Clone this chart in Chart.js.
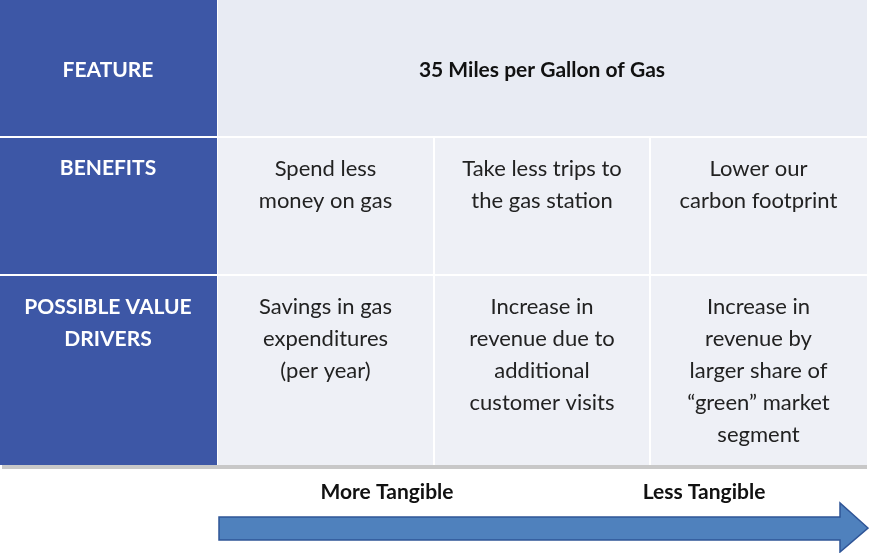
<!DOCTYPE html>
<html><head><meta charset="utf-8">
<script src="https://cdn.jsdelivr.net/npm/chart.js@4"></script>
<style>html,body{margin:0;padding:0;background:#fff}#wrap{width:869px;height:553px}</style>
</head><body><div id="wrap"><canvas id="c"></canvas></div>
<script>
// table content
const rowLabels = [["FEATURE"], ["BENEFITS"], ["POSSIBLE VALUE", "DRIVERS"]];
const feature = ["35 Miles per Gallon of Gas"];
const benefits = [["Spend less", "money on gas"], ["Take less trips to", "the gas station"], ["Lower our", "carbon footprint"]];
const drivers = [["Savings in gas", "expenditures", "(per year)"], ["Increase in", "revenue due to", "additional", "customer visits"], ["Increase in", "revenue by", "larger share of", "\u201cgreen\u201d market", "segment"]];
const tangibleLabels = ["More Tangible", "Less Tangible"];
// grid edges in chart units
const colEdges = [0, 217, 434, 650, 867];
const rowEdges = [0, 137, 275, 465];

const tablePlugin = {
  id: "table",
  afterDraw(chart) {
    const ctx = chart.ctx, X = v => chart.scales.x.getPixelForValue(v), Y = v => chart.scales.y.getPixelForValue(v);
    ctx.save();
    // shadow
    ctx.fillStyle = "#c8c8c8";
    ctx.fillRect(X(2), Y(465), X(867) - X(2), 4);
    for (let r = 0; r < 3; r++) {
      const y0 = Y(rowEdges[r]), y1 = Y(rowEdges[r + 1]);
      ctx.fillStyle = "#3D57A6";
      ctx.fillRect(X(0), y0, X(217) - X(0), y1 - y0);
      ctx.fillStyle = r === 0 ? "#E8EBF3" : "#EEF0F6";
      ctx.fillRect(X(218), y0, X(867) - X(218), y1 - y0);
    }
    ctx.strokeStyle = "#ffffff"; ctx.lineWidth = 2;
    ctx.beginPath();
    [137, 275].forEach(v => { ctx.moveTo(X(0), Y(v)); ctx.lineTo(X(867), Y(v)); });
    [434, 650].forEach(v => { ctx.moveTo(X(v), Y(137)); ctx.lineTo(X(v), Y(465)); });
    ctx.stroke();
    ctx.textAlign = "center"; ctx.textBaseline = "middle";
    const lines = (arr, cx, cy, lh) => arr.forEach((t, i) => ctx.fillText(t, cx, cy + i * lh));
    ctx.fillStyle = "#ffffff"; ctx.font = "bold 21px Lato, 'Open Sans', sans-serif";
    lines(rowLabels[0], X(108), Y(70), 32);
    lines(rowLabels[1], X(108), Y(168), 32);
    lines(rowLabels[2], X(108), Y(307), 32);
    ctx.fillStyle = "#111"; ctx.font = "bold 21px Lato, 'Open Sans', sans-serif";
    ctx.fillText(feature[0], X(542), Y(70));
    ctx.fillStyle = "#222"; ctx.font = "22px Lato, 'Open Sans', sans-serif";
    for (let c = 0; c < 3; c++) {
      const cx = X((colEdges[c + 1] + colEdges[c + 2]) / 2);
      lines(benefits[c], cx, Y(169), 32);
      lines(drivers[c], cx, Y(307), 32);
    }
    ctx.fillStyle = "#111"; ctx.font = "bold 21px Lato, 'Open Sans', sans-serif";
    ctx.fillText(tangibleLabels[0], X(387), Y(492));
    ctx.fillText(tangibleLabels[1], X(704), Y(492));
    // arrow
    ctx.fillStyle = "#4F81BD"; ctx.strokeStyle = "#2F5597"; ctx.lineWidth = 1.5;
    ctx.beginPath();
    ctx.moveTo(X(219), Y(517)); ctx.lineTo(X(840), Y(517)); ctx.lineTo(X(840), Y(503));
    ctx.lineTo(X(868), Y(528)); ctx.lineTo(X(840), Y(552)); ctx.lineTo(X(840), Y(540));
    ctx.lineTo(X(219), Y(540)); ctx.closePath(); ctx.fill(); ctx.stroke();
    ctx.restore();
  }
};

new Chart(document.getElementById("c"), {
  type: "scatter",
  data: { datasets: [{ data: [] }] },
  options: {
    responsive: true, maintainAspectRatio: false, animation: false,
    layout: { padding: 0 },
    plugins: { legend: { display: false }, tooltip: { enabled: false } },
    scales: {
      x: { type: "linear", min: 0, max: 869, display: false },
      y: { type: "linear", min: 0, max: 553, reverse: true, display: false }
    }
  },
  plugins: [tablePlugin]
});
</script></body></html>
